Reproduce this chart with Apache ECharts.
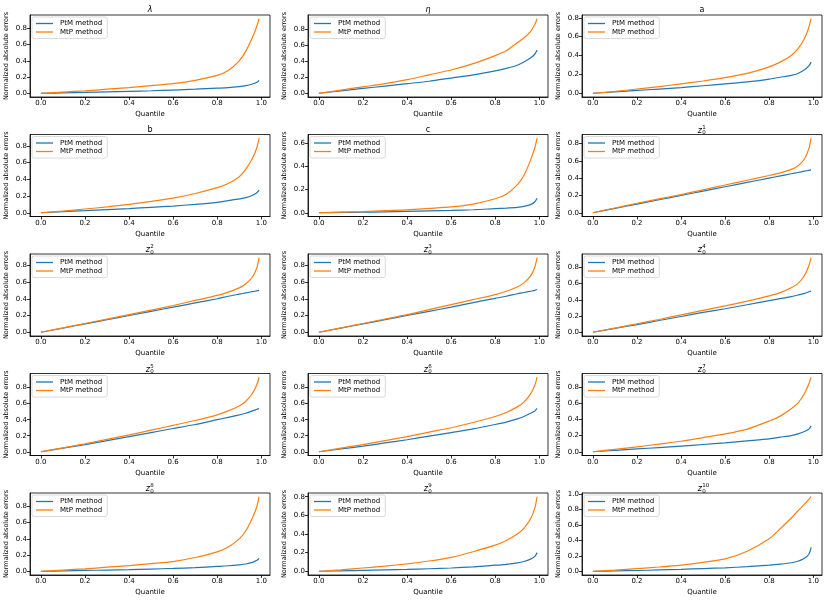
<!DOCTYPE html>
<html>
<head>
<meta charset="utf-8">
<script src="https://cdn.jsdelivr.net/npm/echarts@6/dist/echarts.min.js"></script>
<style>
  html, body { margin: 0; padding: 0; background: #fff; }
  #main { width: 830px; height: 600px; }
</style>
</head>
<body>
<div id="main"></div>
<script>
// quantile positions where the curves were read
const quantile = [0, 0.1, 0.2, 0.3, 0.4, 0.5, 0.6, 0.7, 0.8, 0.85, 0.9, 0.93, 0.96, 0.98, 0.99];
const xTicks = [0, 0.2, 0.4, 0.6, 0.8, 1.0];
const seriesNames = ['PtM method', 'MtP method'];

const ptmLambda = [0, 0.005, 0.01, 0.017, 0.024, 0.031, 0.04, 0.05, 0.063, 0.07, 0.083, 0.095, 0.115, 0.135, 0.16];
const mtpLambda = [0, 0.015, 0.03, 0.05, 0.07, 0.095, 0.12, 0.16, 0.22, 0.28, 0.4, 0.52, 0.69, 0.83, 0.92];
const ptmEta = [0, 0.03, 0.06, 0.09, 0.12, 0.15, 0.19, 0.23, 0.28, 0.31, 0.35, 0.39, 0.44, 0.49, 0.54];
const mtpEta = [0, 0.04, 0.08, 0.12, 0.17, 0.23, 0.29, 0.37, 0.47, 0.53, 0.63, 0.69, 0.77, 0.86, 0.93];
const ptmA = [0, 0.015, 0.03, 0.045, 0.06, 0.08, 0.1, 0.12, 0.15, 0.17, 0.19, 0.21, 0.25, 0.29, 0.33];
const mtpA = [0, 0.02, 0.045, 0.07, 0.1, 0.13, 0.165, 0.21, 0.28, 0.33, 0.4, 0.47, 0.58, 0.7, 0.79];
const ptmB = [0, 0.013, 0.025, 0.038, 0.05, 0.065, 0.08, 0.1, 0.125, 0.145, 0.165, 0.18, 0.21, 0.24, 0.27];
const mtpB = [0, 0.02, 0.045, 0.07, 0.1, 0.135, 0.175, 0.23, 0.3, 0.35, 0.43, 0.52, 0.65, 0.78, 0.89];
const ptmC = [0, 0.003, 0.005, 0.008, 0.012, 0.016, 0.02, 0.026, 0.035, 0.04, 0.047, 0.055, 0.07, 0.095, 0.125];
const mtpC = [0, 0.005, 0.01, 0.018, 0.025, 0.037, 0.05, 0.075, 0.12, 0.16, 0.24, 0.32, 0.45, 0.56, 0.64];
const ptmZ1 = [0, 0.05, 0.1, 0.15, 0.2, 0.25, 0.3, 0.35, 0.4, 0.425, 0.45, 0.465, 0.48, 0.49, 0.495];
const mtpZ1 = [0, 0.055, 0.11, 0.16, 0.21, 0.265, 0.32, 0.375, 0.43, 0.46, 0.5, 0.54, 0.62, 0.74, 0.86];
const ptmZ2 = [0, 0.05, 0.1, 0.15, 0.2, 0.25, 0.3, 0.35, 0.4, 0.43, 0.455, 0.47, 0.485, 0.495, 0.5];
const mtpZ2 = [0, 0.052, 0.105, 0.158, 0.21, 0.265, 0.32, 0.38, 0.44, 0.48, 0.53, 0.58, 0.66, 0.77, 0.89];
const ptmZ3 = [0, 0.05, 0.1, 0.15, 0.2, 0.25, 0.3, 0.355, 0.405, 0.43, 0.46, 0.475, 0.49, 0.5, 0.51];
const mtpZ3 = [0, 0.052, 0.105, 0.158, 0.21, 0.27, 0.33, 0.39, 0.45, 0.49, 0.54, 0.59, 0.67, 0.78, 0.89];
const ptmZ4 = [0, 0.048, 0.095, 0.145, 0.195, 0.245, 0.29, 0.34, 0.39, 0.415, 0.44, 0.46, 0.48, 0.5, 0.51];
const mtpZ4 = [0, 0.052, 0.105, 0.158, 0.215, 0.27, 0.325, 0.385, 0.45, 0.49, 0.55, 0.6, 0.7, 0.82, 0.92];
const ptmZ5 = [0, 0.045, 0.09, 0.14, 0.19, 0.24, 0.29, 0.34, 0.4, 0.43, 0.46, 0.48, 0.51, 0.53, 0.54];
const mtpZ5 = [0, 0.048, 0.1, 0.155, 0.21, 0.27, 0.33, 0.39, 0.46, 0.51, 0.57, 0.63, 0.73, 0.84, 0.93];
const ptmZ6 = [0, 0.035, 0.07, 0.11, 0.15, 0.195, 0.24, 0.285, 0.34, 0.37, 0.41, 0.44, 0.48, 0.51, 0.54];
const mtpZ6 = [0, 0.045, 0.09, 0.14, 0.19, 0.245, 0.3, 0.365, 0.44, 0.49, 0.56, 0.62, 0.72, 0.83, 0.93];
const ptmZ7 = [0, 0.018, 0.035, 0.052, 0.07, 0.09, 0.11, 0.135, 0.16, 0.18, 0.2, 0.22, 0.25, 0.28, 0.32];
const mtpZ7 = [0, 0.03, 0.06, 0.095, 0.13, 0.175, 0.22, 0.28, 0.38, 0.44, 0.53, 0.6, 0.72, 0.84, 0.92];
const ptmZ8 = [0, 0.005, 0.01, 0.015, 0.02, 0.027, 0.035, 0.045, 0.06, 0.068, 0.08, 0.09, 0.11, 0.135, 0.16];
const mtpZ8 = [0, 0.015, 0.03, 0.05, 0.07, 0.095, 0.12, 0.17, 0.24, 0.3, 0.4, 0.5, 0.66, 0.8, 0.92];
const ptmZ9 = [0, 0.005, 0.01, 0.015, 0.02, 0.027, 0.035, 0.048, 0.065, 0.075, 0.09, 0.105, 0.13, 0.16, 0.2];
const mtpZ9 = [0, 0.015, 0.035, 0.055, 0.08, 0.11, 0.15, 0.21, 0.28, 0.33, 0.4, 0.46, 0.56, 0.68, 0.8];
const ptmZ10 = [0, 0.005, 0.01, 0.017, 0.025, 0.035, 0.045, 0.06, 0.08, 0.093, 0.11, 0.13, 0.17, 0.22, 0.31];
const mtpZ10 = [0, 0.015, 0.035, 0.055, 0.08, 0.115, 0.16, 0.26, 0.42, 0.55, 0.69, 0.78, 0.87, 0.93, 0.965];

// title: base symbol + optional superscript (subscript is always 0 for z)
const panels = [
  { name: 'λ', sup: null, ptm: ptmLambda, mtp: mtpLambda },
  { name: 'η', sup: null, ptm: ptmEta, mtp: mtpEta },
  { name: 'a', sup: null, ptm: ptmA, mtp: mtpA, plain: true },
  { name: 'b', sup: null, ptm: ptmB, mtp: mtpB, plain: true },
  { name: 'c', sup: null, ptm: ptmC, mtp: mtpC, plain: true },
  { name: 'z', sup: '1', ptm: ptmZ1, mtp: mtpZ1 },
  { name: 'z', sup: '2', ptm: ptmZ2, mtp: mtpZ2 },
  { name: 'z', sup: '3', ptm: ptmZ3, mtp: mtpZ3 },
  { name: 'z', sup: '4', ptm: ptmZ4, mtp: mtpZ4 },
  { name: 'z', sup: '5', ptm: ptmZ5, mtp: mtpZ5 },
  { name: 'z', sup: '6', ptm: ptmZ6, mtp: mtpZ6 },
  { name: 'z', sup: '7', ptm: ptmZ7, mtp: mtpZ7 },
  { name: 'z', sup: '8', ptm: ptmZ8, mtp: mtpZ8 },
  { name: 'z', sup: '9', ptm: ptmZ9, mtp: mtpZ9 },
  { name: 'z', sup: '10', ptm: ptmZ10, mtp: mtpZ10 }
];

const colLeft = [30, 308, 582];
const gridW = 240;
const rowTop = [15, 134.5, 254, 373.5, 493];
const gridH = 82;
const FONT = 'DejaVu Sans';
const COLORS = ['#1f77b4', '#ff7f0e'];

const grid = [], xAxis = [], yAxis = [], series = [], legend = [], graphic = [];

panels.forEach((p, i) => {
  const left = colLeft[i % 3];
  const top = rowTop[Math.floor(i / 3)];
  grid.push({
    left: left, top: top, width: gridW, height: gridH,
    show: true, borderColor: '#000', borderWidth: 0.8, backgroundColor: 'transparent'
  });
  xAxis.push({
    gridIndex: i, type: 'value', min: -0.0495, max: 1.0395,
    name: 'Quantile', nameLocation: 'middle', nameGap: 14,
    nameTextStyle: { fontFamily: FONT, fontSize: 7, color: '#000' },
    axisLine: { show: true, onZero: false, lineStyle: { color: '#000', width: 0.8 } },
    axisTick: { show: true, length: 3, customValues: xTicks, lineStyle: { color: '#000', width: 0.8 } },
    axisLabel: { customValues: xTicks, formatter: v => v.toFixed(1), fontFamily: FONT, fontSize: 7, color: '#000', margin: 3 },
    splitLine: { show: false }
  });
  const hi = Math.max(...p.ptm, ...p.mtp);
  const yTicks = [];
  for (let t = 0; t <= hi * 1.05 + 1e-9; t += 0.2) yTicks.push(Math.round(t * 10) / 10);
  yAxis.push({
    gridIndex: i, type: 'value', min: -0.05 * hi, max: 1.05 * hi,
    name: 'Normalized absolute errors', nameLocation: 'middle', nameGap: 20,
    nameTextStyle: { fontFamily: FONT, fontSize: 6.5, color: '#000' },
    axisLine: { show: true, onZero: false, lineStyle: { color: '#000', width: 0.8 } },
    axisTick: { show: true, length: 3, customValues: yTicks, lineStyle: { color: '#000', width: 0.8 } },
    axisLabel: { customValues: yTicks, formatter: v => v.toFixed(1), fontFamily: FONT, fontSize: 7, color: '#000', margin: 3 },
    splitLine: { show: false }
  });
  [p.ptm, p.mtp].forEach((vals, k) => {
    series.push({
      name: seriesNames[k], type: 'line', xAxisIndex: i, yAxisIndex: i,
      data: quantile.map((q, j) => [q, vals[j]]),
      symbol: 'none', smooth: 0.25,
      lineStyle: { width: 1.2, color: COLORS[k] },
      itemStyle: { color: COLORS[k] },
      silent: true, animation: false
    });
  });
  legend.push({
    left: left + 2, top: top + 2, orient: 'vertical',
    data: seriesNames.map((n, k) => ({
      name: n, icon: 'rect',
      itemStyle: { color: COLORS[k], opacity: 1 }
    })),
    itemWidth: 17, itemHeight: 1.3, itemGap: 1.5,
    padding: [3, 5, 3, 4], borderColor: '#d0d0d0', borderWidth: 0.8, borderRadius: 2,
    backgroundColor: 'rgba(255,255,255,0.8)',
    textStyle: { fontFamily: FONT, fontSize: 7, color: '#000', padding: [0, 0, 0, 2] }
  });
  const cx = left + gridW / 2;
  const ty = top - 5;
  if (p.sup === null) {
    graphic.push({
      type: 'text', x: cx, y: ty,
      style: { text: p.name, fontFamily: FONT, fontSize: 8, fontStyle: p.plain ? 'normal' : 'italic',
        fill: '#000', align: 'center', verticalAlign: 'middle' }
    });
  } else {
    graphic.push({ type: 'text', x: cx, y: ty + 1,
      style: { text: 'z', fontFamily: FONT, fontSize: 8, fontStyle: 'italic', fill: '#000', align: 'right', verticalAlign: 'middle' } });
    graphic.push({ type: 'text', x: cx + 0.3, y: ty - 2,
      style: { text: p.sup, fontFamily: FONT, fontSize: 5.5, fill: '#000', align: 'left', verticalAlign: 'middle' } });
    graphic.push({ type: 'text', x: cx + 0.3, y: ty + 3.5,
      style: { text: '0', fontFamily: FONT, fontSize: 5.5, fill: '#000', align: 'left', verticalAlign: 'middle' } });
  }
});

const chart = echarts.init(document.getElementById('main'), null, { renderer: 'canvas' });
chart.setOption({
  backgroundColor: '#fff',
  animation: false,
  grid, xAxis, yAxis, series, legend, graphic
});
</script>
</body>
</html>
